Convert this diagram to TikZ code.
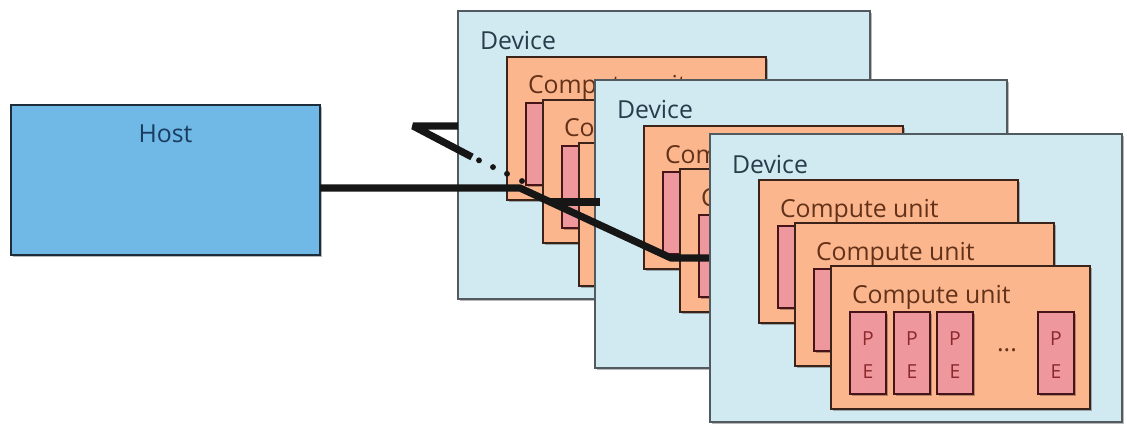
\documentclass[tikz,border=0pt]{standalone}
\usepackage{fontspec}
\setmainfont{Open Sans}
\usetikzlibrary{calc,shadows}
\definecolor{hostfill}{RGB}{112,184,230}
\definecolor{hostdraw}{RGB}{30,45,60}
\definecolor{hosttext}{RGB}{25,60,95}
\definecolor{devfill}{RGB}{209,233,241}
\definecolor{devdraw}{RGB}{80,90,95}
\definecolor{devtextc}{RGB}{40,60,75}
\definecolor{cufill}{RGB}{251,182,142}
\definecolor{cudraw}{RGB}{60,35,25}
\definecolor{cutextc}{RGB}{100,50,25}
\definecolor{pefill}{RGB}{238,152,158}
\definecolor{pedraw}{RGB}{70,20,25}
\definecolor{petextc}{RGB}{140,40,45}
\definecolor{busc}{RGB}{22,22,22}
\def\nolab{-}
% #1 name, #2 x, #3 y, #4-#6 visible part of each compute-unit label ("-" = fully hidden)
\newcommand\drawdevice[6]{%
  \node[devbox] (#1) at (#2,#3) {};
  \node[devtext] (#1-lbl) at (#2+22,#3+39) {Device};
  \foreach \k/\lab in {1/#4,2/#5,3/#6}{%
    \pgfmathsetmacro\cux{#2+49+36*(\k-1)}%
    \pgfmathsetmacro\cuy{#3+46+43*(\k-1)}%
    \node[cubox] (#1cu\k) at (\cux,\cuy) {};
    \ifx\lab\nolab\else
      \node[cutext] (#1cu\k-lbl) at (\cux+21,\cuy+37) {\lab};
    \fi
    \ifnum\k=3
      \foreach \p/\dx in {1/19,2/63,3/106,4/207}{%
        \node[pebox] (#1cu\k-pe\p) at (\cux+\dx,\cuy+46) {};
        \node[petext] (#1cu\k-pe\p-P) at (\cux+\dx+18,\cuy+46+27) {P};
        \node[petext] (#1cu\k-pe\p-E) at (\cux+\dx+18,\cuy+46+60) {E};
      }
      \node[cutext, anchor=base] (#1cu\k-dots) at (\cux+176,\cuy+85) {...};
    \else
      \node[pebox] (#1cu\k-pe1) at (\cux+19,\cuy+46) {};
    \fi
  }%
}
\begin{document}
\begin{tikzpicture}[x=0.75pt,y=-0.75pt,
  shadowed/.style={drop shadow={shadow xshift=1.8pt, shadow yshift=-1.8pt, fill=black, opacity=0.28}},
  hostbox/.style={shadowed, draw=hostdraw, fill=hostfill, line width=1.1pt, anchor=north west,
    minimum width=231.75pt, minimum height=112.5pt, inner sep=0pt, outer sep=0pt},
  devbox/.style={shadowed, draw=devdraw, fill=devfill, line width=1pt, anchor=north west,
    minimum width=309pt, minimum height=216pt, inner sep=0pt, outer sep=0pt},
  cubox/.style={shadowed, draw=cudraw, fill=cufill, line width=1pt, anchor=north west,
    minimum width=194.25pt, minimum height=107.25pt, inner sep=0pt, outer sep=0pt},
  pebox/.style={shadowed, draw=pedraw, fill=pefill, line width=1.1pt, anchor=north west,
    minimum width=27pt, minimum height=61.5pt, inner sep=0pt, outer sep=0pt},
  lbl/.style={inner sep=0pt, outer sep=0pt, font=\fontsize{18.6pt}{22pt}\selectfont},
  devtext/.style={lbl, anchor=base west, text=devtextc},
  cutext/.style={lbl, anchor=base west, text=cutextc},
  hosttextst/.style={lbl, anchor=base, text=hosttext},
  petext/.style={inner sep=0pt, text=petextc, font=\fontsize{14.5pt}{16pt}\selectfont},
  bus/.style={draw=busc, line width=5.4pt, line cap=butt, line join=bevel},
]
\useasboundingbox (0,0) rectangle (1127,424);
\fill[white] (0,0) rectangle (1127,424);

\node[hostbox] (host) at (11,105) {};
\node[hosttextst] (hostlbl) at (165.5,143) {Host};

\drawdevice{dev1}{458}{11}{Compute unit}{Com}{-}
\drawdevice{dev2}{595}{80}{Com}{Co}{-}

\coordinate (J) at (520,188);
\coordinate (K) at (671,258);
\coordinate (A) at (413,126);
\coordinate (S) at (472,157);
\coordinate (D) at (522,181);
\coordinate (T) at ($(J)!0.2!(K)$);
\coordinate (dev2in) at ([xshift=3.75pt]dev2.west);
\coordinate (dev3edge) at (710,258);

\draw[bus] (host.east |- J) -- (J) -- (K) -- (dev3edge);
\draw[bus] (T) -- (dev2in |- T);
\draw[bus] (dev1.west |- A) -- (A) -- (S);
\foreach \t in {0.14,0.42,0.70,1.0}
  \fill[busc] ($(S)!\t!(D)$) circle (2.2pt);

\drawdevice{dev3}{710}{134}{Compute unit}{Compute unit}{Compute unit}
\end{tikzpicture}
\end{document}
